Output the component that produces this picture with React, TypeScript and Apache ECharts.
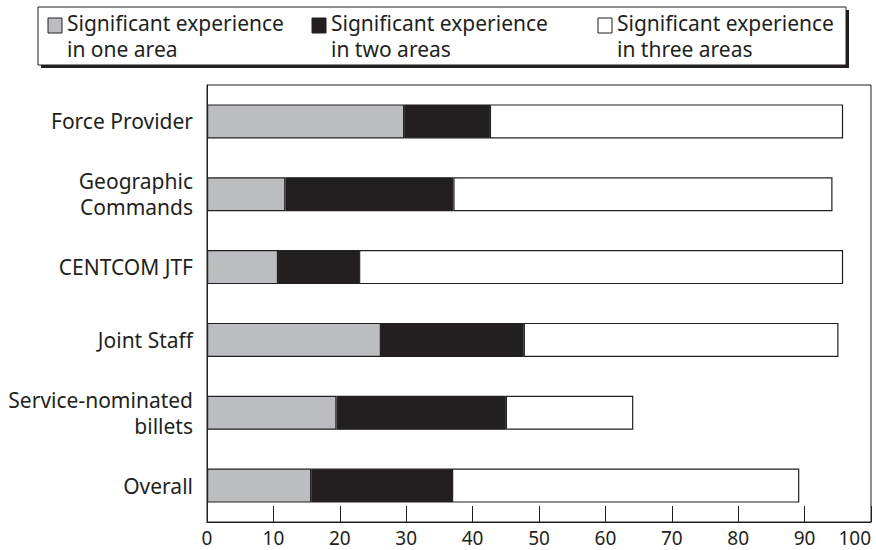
import React, { useEffect, useRef } from "react";
import * as echarts from "echarts";

const categories = [
  "Force Provider",
  "Geographic\nCommands",
  "CENTCOM JTF",
  "Joint Staff",
  "Service-nominated\nbillets",
  "Overall",
];
const oneArea = [29.7, 11.8, 10.7, 26.2, 19.5, 15.7];
const twoAreas = [12.9, 25.3, 12.2, 21.5, 25.5, 21.2];
const threeAreas = [53.2, 57.1, 72.9, 47.4, 19.2, 52.3];
const seriesNames = [
  "Significant experience\nin one area",
  "Significant experience\nin two areas",
  "Significant experience\nin three areas",
];
const seriesColors = ["#bcbdc0", "#231f20", "#ffffff"];
const xTicks = { min: 0, max: 100, interval: 10 };

const FONT = "'Noto Sans', 'DejaVu Sans', sans-serif";
const INK = "#231f20";

export default function App() {
  const ref = useRef<HTMLDivElement>(null);
  useEffect(() => {
    if (!ref.current) return;
    const chart = echarts.init(ref.current, undefined, { renderer: "svg" });
    const data = [oneArea, twoAreas, threeAreas];
    const legendX = [48, 312, 598];
    const legendGraphics: any[] = [
      { type: "rect", shape: { x: 41, y: 10, width: 808, height: 58 }, style: { fill: INK }, silent: true },
      { type: "rect", shape: { x: 38, y: 7, width: 808, height: 58 }, style: { fill: "#fff", stroke: INK, lineWidth: 1 }, silent: true },
    ];
    seriesNames.forEach((n, i) => {
      legendGraphics.push({
        type: "rect",
        shape: { x: legendX[i], y: 18, width: 14, height: 15 },
        style: { fill: seriesColors[i], stroke: INK, lineWidth: 1 },
        silent: true,
      });
      legendGraphics.push({
        type: "text",
        x: legendX[i] + 19,
        y: 10,
        style: { text: n, font: `21px ${FONT}`, fill: INK, lineHeight: 26 },
        silent: true,
      });
    });
    chart.setOption({
      animation: false,
      textStyle: { fontFamily: FONT },
      grid: {
        left: 207,
        right: 5,
        top: 85,
        bottom: 28,
        show: true,
        borderColor: INK,
        borderWidth: 1,
        backgroundColor: "transparent",
        containLabel: false,
      },
      xAxis: {
        type: "value",
        min: xTicks.min,
        max: xTicks.max,
        interval: xTicks.interval,
        splitLine: { show: false },
        axisLine: { show: true, lineStyle: { color: INK, width: 1 } },
        axisTick: { show: true, inside: true, length: 16, lineStyle: { color: INK } },
        axisLabel: {
          color: INK,
          fontSize: 19,
          fontFamily: FONT,
          margin: 6,
          alignMaxLabel: "right",
        },
      },
      yAxis: {
        type: "category",
        inverse: true,
        data: categories,
        axisLine: { show: true, lineStyle: { color: INK } },
        axisTick: { show: false },
        axisLabel: { color: INK, fontSize: 21, fontFamily: FONT, margin: 14, lineHeight: 26, align: "right" },
      },
      series: seriesNames.map((name, i) => ({
        type: "bar",
        name,
        stack: "total",
        barWidth: 34,
        data: data[i],
        itemStyle: { color: seriesColors[i], borderColor: INK, borderWidth: 1.2 },
      })),
      graphic: legendGraphics,
    });
    return () => chart.dispose();
  }, []);
  return (
    <div
      ref={ref}
      style={{ position: "absolute", left: 0, top: 0, width: 876, height: 550, background: "#fff" }}
    />
  );
}
